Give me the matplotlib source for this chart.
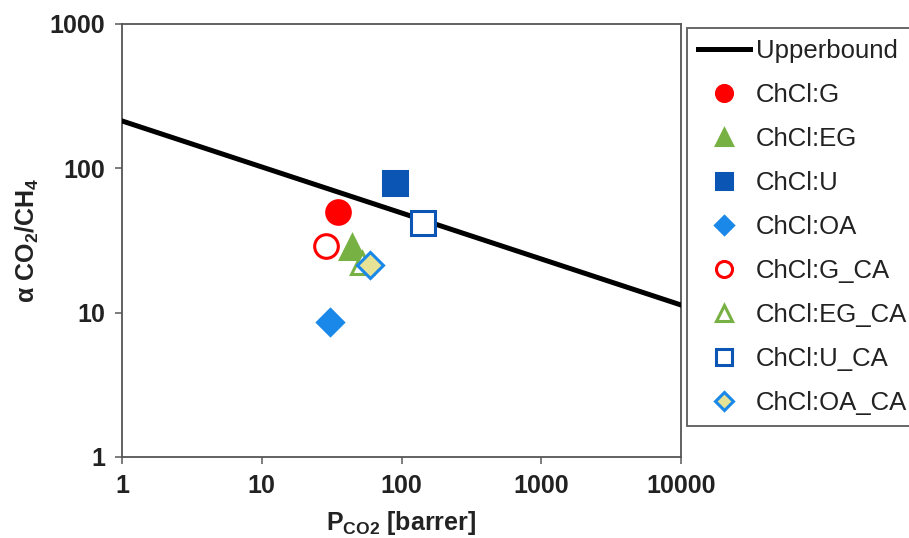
import matplotlib
matplotlib.use("Agg")
import matplotlib.pyplot as plt
import numpy as np

plt.rcParams['font.family'] = ['Liberation Sans', 'DejaVu Sans']
plt.rcParams['mathtext.fontset'] = 'custom'
plt.rcParams['mathtext.rm'] = 'Liberation Sans:bold'
plt.rcParams['mathtext.bf'] = 'Liberation Sans:bold'
plt.rcParams['mathtext.it'] = 'Liberation Sans:bold'
plt.rcParams['mathtext.default'] = 'bf'

# Upper bound line endpoints (permeability, selectivity)
bound_p = [1, 10000]
bound_alpha = [213, 11.3]

# Membrane data: CO2 permeability [barrer] and CO2/CH4 selectivity
labels = ["ChCl:G", "ChCl:EG", "ChCl:U", "ChCl:OA",
          "ChCl:G_CA", "ChCl:EG_CA", "ChCl:U_CA", "ChCl:OA_CA"]
perm = [35, 44, 90, 31, 29, 52, 143, 60]
selectivity = [50, 28.5, 79, 8.6, 29, 22, 42, 21.5]

markers = ["o", "^", "s", "D", "o", "^", "s", "D"]
faces = ["#FF0000", "#77B043", "#0B56B4", "#1A88E8",
         "white", "white", "white", "#E6E396"]
edges = ["#FF0000", "#77B043", "#0B56B4", "#1A88E8",
         "#FF0000", "#77B043", "#0B56B4", "#1A88E8"]
sizes = [17, 17, 17, 13, 17, 16, 17, 13]
draw_order = [0, 4, 1, 5, 3, 7, 2, 6]

fig = plt.figure(figsize=(9.09, 5.38), dpi=100)
ax = fig.add_axes([0.1342, 0.1506, 0.6150, 0.8048])

ax.plot(bound_p, bound_alpha, color="black", lw=3.6, label="Upperbound", zorder=3)

handles = {}
for i in draw_order:
    h, = ax.plot([perm[i]], [selectivity[i]], linestyle="none", marker=markers[i],
                 markersize=sizes[i], markerfacecolor=faces[i],
                 markeredgecolor=edges[i], markeredgewidth=2.2,
                 label=labels[i], zorder=4)
    handles[i] = h

ax.set_xscale("log")
ax.set_yscale("log")
ax.set_xlim(1, 10000)
ax.set_ylim(1, 1000)
ax.set_xticks([1, 10, 100, 1000, 10000])
ax.set_xticklabels(["1", "10", "100", "1000", "10000"])
ax.set_yticks([1, 10, 100, 1000])
ax.set_yticklabels(["1", "10", "100", "1000"])
ax.minorticks_off()
ax.tick_params(axis="both", direction="out", length=5, width=1.2, color="#666666",
               labelsize=18, pad=7)
for lab in ax.get_xticklabels() + ax.get_yticklabels():
    lab.set_fontweight("bold")
    lab.set_color("#222222")
for s in ax.spines.values():
    s.set_color("#555555")
    s.set_linewidth(1.3)

ax.set_xlabel("P$_{CO2}$ [barrer]", fontsize=18, fontweight="bold", color="#222222", labelpad=8)
ax.set_ylabel("α CO$_2$/CH$_4$", fontsize=18, fontweight="bold", color="#222222", labelpad=6)

line_handle = ax.get_lines()[0]
leg_handles = [line_handle] + [handles[i] for i in range(len(labels))]
leg_labels = ["Upperbound"] + labels
leg = fig.legend(leg_handles, leg_labels, loc="upper left",
                 bbox_to_anchor=(687 / 909, 1 - 28 / 538),
                 fontsize=18.5, markerscale=0.68, frameon=True, fancybox=False,
                 edgecolor="#333333", labelspacing=0.78, handlelength=2.05,
                 handletextpad=0.2, borderpad=0.42, borderaxespad=0)
leg.get_frame().set_linewidth(1.3)
for t in leg.get_texts():
    t.set_color("#222222")

fig.savefig("out.png", dpi=100)
